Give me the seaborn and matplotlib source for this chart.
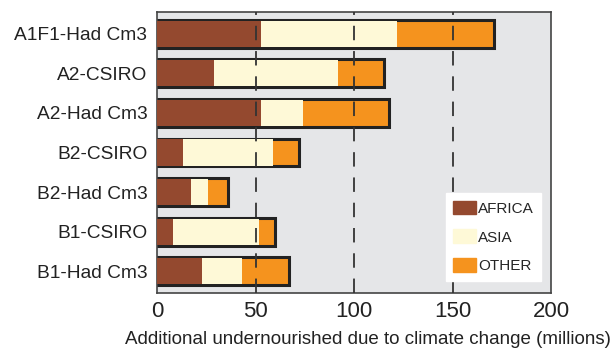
import seaborn as sns
import matplotlib.pyplot as plt
import pandas as pd
from matplotlib.patches import Patch

# Scenario names and regional values (millions)
scenarios = ['A1F1-Had Cm3', 'A2-CSIRO', 'A2-Had Cm3', 'B2-CSIRO', 'B2-Had Cm3', 'B1-CSIRO', 'B1-Had Cm3']
africa = [53, 29, 53, 13, 17, 8, 23]
asia = [69, 63, 21, 46, 9, 44, 20]
other = [49, 23, 44, 13, 10, 8, 24]

df = pd.DataFrame({'scenario': scenarios, 'africa': africa, 'asia': asia, 'other': other})
df['aa'] = df['africa'] + df['asia']
df['total'] = df['aa'] + df['other']

c_africa = '#94492f'
c_asia = '#fef9d7'
c_other = '#f5931e'

sns.set_style('white')
plt.rcParams['font.family'] = ['Liberation Sans', 'DejaVu Sans']

fig = plt.figure(figsize=(6.15, 3.51), dpi=100)
ax = fig.add_axes([0.2553, 0.165, 0.6407, 0.801])
ax.set_facecolor('#e5e6e8')

sns.barplot(data=df, y='scenario', x='total', color=c_other, orient='h', width=0.7,
            saturation=1, edgecolor='#222222', linewidth=2.2, ax=ax, zorder=2)
sns.barplot(data=df, y='scenario', x='aa', color=c_asia, orient='h', width=0.66,
            saturation=1, linewidth=0, ax=ax, zorder=3)
sns.barplot(data=df, y='scenario', x='africa', color=c_africa, orient='h', width=0.66,
            saturation=1, linewidth=0, ax=ax, zorder=3)

for v in [50, 100, 150]:
    ax.axvline(v, color='#333333', lw=1.3, ls=(0, (8, 6)), zorder=4)

ax.set_xlim(0, 200)
ax.set_ylim(6.55, -0.55)
ax.set_xticks([0, 50, 100, 150, 200])
ax.tick_params(axis='x', labelsize=16, length=0, pad=6, colors='#222222')
ax.tick_params(axis='y', labelsize=13.8, length=0, pad=7, colors='#222222')
ax.set_ylabel('')
ax.set_xlabel('Additional undernourished due to climate change (millions)', fontsize=13.5,
              color='#222222')
ax.xaxis.set_label_coords(0.536, -0.135)
for s in ax.spines.values():
    s.set_color('#444444')
    s.set_linewidth(1.2)

handles = [Patch(color=c_africa, label='AFRICA'),
           Patch(color=c_asia, label='ASIA'),
           Patch(color=c_other, label='OTHER')]
leg = ax.legend(handles=handles, loc='lower right', bbox_to_anchor=(0.975, 0.043),
                frameon=True, fancybox=False, framealpha=1, edgecolor='white',
                fontsize=11, handlelength=1.5, handleheight=1.0, labelspacing=0.9,
                handletextpad=0.1, borderpad=0.5, borderaxespad=0)
leg.set_zorder(5)

plt.savefig('out.png', dpi=100)
